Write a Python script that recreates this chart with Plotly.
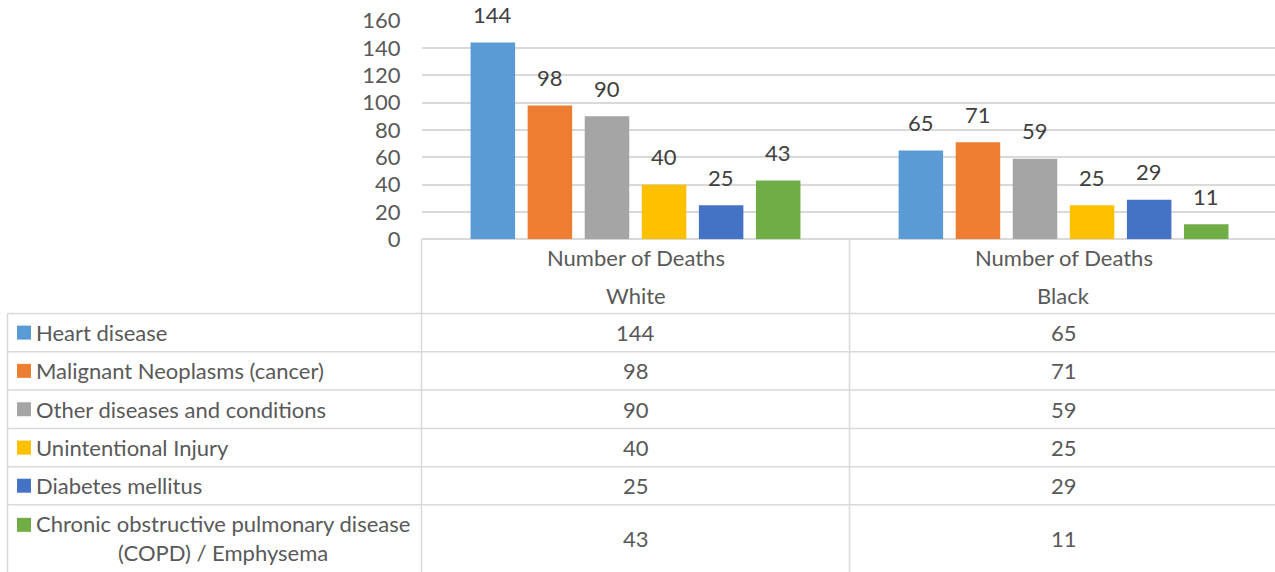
import plotly.graph_objects as go

# ---- data -------------------------------------------------------------
groups = ["White", "Black"]
group_header = "Number of Deaths"
causes = [
    "Heart disease",
    "Malignant Neoplasms (cancer)",
    "Other diseases and conditions",
    "Unintentional Injury",
    "Diabetes mellitus",
    "Chronic obstructive pulmonary disease (COPD) / Emphysema",
]
white_deaths = [144, 98, 90, 40, 25, 43]
black_deaths = [65, 71, 59, 25, 29, 11]
y_ticks = [0, 20, 40, 60, 80, 100, 120, 140, 160]

colors = ["#5B9BD5", "#ED7D31", "#A5A5A5", "#FFC000", "#4472C4", "#70AD47"]

# ---- page geometry (pixels of a 1275x572 page) -----------------------
W, H = 1275, 572
FONT = "Lato"
FS = 22
TXT = "#595959"
LBL = "#404040"
GRID = "#D9D9D9"

def px(x):
    return x / W

def py(y):
    return 1 - y / H

plot_left, plot_top, plot_bottom = 421.5, 20.7, 239.3
split_x = 849.5
table_left = 7.5
row_lines = [313.5, 351.7, 390.0, 428.5, 466.7, 504.7]
row_bottoms = row_lines[1:] + [H]

bargap = 0.2
bargroupgap = 0.22
label_shift = 28

series = list(zip(*[white_deaths, black_deaths]))  # per cause: (white, black)

fig = go.Figure()
for cause, vals, col in zip(causes, series, colors):
    fig.add_trace(go.Bar(
        name=cause, x=groups, y=list(vals), marker_color=col,
        marker_line_width=0, showlegend=False, hoverinfo="x+y+name",
    ))

annotations = []
shapes = []

# value labels above bars
n = len(causes)
slot = (1 - bargap) / n
for i, vals in enumerate(series):
    for g, v in enumerate(vals):
        xc = g - (1 - bargap) / 2 + (i + 0.5) * slot
        annotations.append(dict(
            x=xc, y=v, xref="x", yref="y", text=str(v), showarrow=False,
            yanchor="middle", yshift=label_shift,
            font=dict(family=FONT, size=FS, color=LBL),
        ))

# table grid
line = dict(color=GRID, width=1.5)
for xv in (plot_left, split_x):
    shapes.append(dict(type="line", xref="paper", yref="paper",
                       x0=px(xv), x1=px(xv), y0=py(plot_bottom), y1=0, line=line))
shapes.append(dict(type="line", xref="paper", yref="paper",
                   x0=px(table_left), x1=px(table_left), y0=py(row_lines[0]), y1=0, line=line))
for yv in row_lines:
    shapes.append(dict(type="line", xref="paper", yref="paper",
                       x0=px(table_left), x1=1, y0=py(yv), y1=py(yv), line=line))

# table header
for g, name in enumerate(groups):
    annotations.append(dict(x=g, xref="x", y=py(257), yref="paper", text=group_header,
                            showarrow=False, yanchor="middle",
                            font=dict(family=FONT, size=FS, color=TXT)))
    annotations.append(dict(x=g, xref="x", y=py(295), yref="paper", text=name,
                            showarrow=False, yanchor="middle",
                            font=dict(family=FONT, size=FS, color=TXT)))

def wrap(label, width=38):
    words, lines, cur = label.split(), [], ""
    for w in words:
        if cur and len(cur) + 1 + len(w) > width:
            lines.append(cur)
            cur = w
        else:
            cur = (cur + " " + w).strip()
    lines.append(cur)
    return lines

# table rows: legend key, cause name, values
for i, cause in enumerate(causes):
    top, bot = row_lines[i], row_bottoms[i]
    yc = (top + bot) / 2
    lines = wrap(cause)
    first_line_y = yc - (len(lines) - 1) * 27 / 2
    shapes.append(dict(type="rect", xref="paper", yref="paper",
                       x0=px(17), x1=px(31), y0=py(first_line_y - 7), y1=py(first_line_y + 7),
                       fillcolor=colors[i], line_width=0))
    annotations.append(dict(x=px(34), y=py(yc), xref="paper", yref="paper",
                            text="<br>".join(lines), showarrow=False,
                            xanchor="left", yanchor="middle", align="center",
                            font=dict(family=FONT, size=FS, color=TXT)))
    for g, vals in enumerate((white_deaths, black_deaths)):
        annotations.append(dict(x=g, xref="x", y=py(yc), yref="paper",
                                text=str(vals[i]), showarrow=False, yanchor="middle",
                                font=dict(family=FONT, size=FS, color=TXT)))

fig.update_layout(
    width=W, height=H,
    margin=dict(l=0, r=0, t=0, b=0, pad=0, autoexpand=False),
    paper_bgcolor="white", plot_bgcolor="white",
    barmode="group", bargap=bargap, bargroupgap=bargroupgap,
    xaxis=dict(domain=[px(plot_left), 1], range=[-0.5, 1.494], automargin=False,
               showticklabels=False, showgrid=False, zeroline=False,
               showline=False, ticks=""),
    yaxis=dict(domain=[py(plot_bottom), py(plot_top)], range=[0, 160], automargin=False,
               tickvals=y_ticks, showgrid=True, gridcolor=GRID, gridwidth=1.5,
               zeroline=True, zerolinecolor=GRID, zerolinewidth=1.5,
               ticks="", ticklabelstandoff=20,
               tickfont=dict(family=FONT, size=FS, color=TXT)),
    annotations=annotations, shapes=shapes,
)

fig.write_html("out.html")
